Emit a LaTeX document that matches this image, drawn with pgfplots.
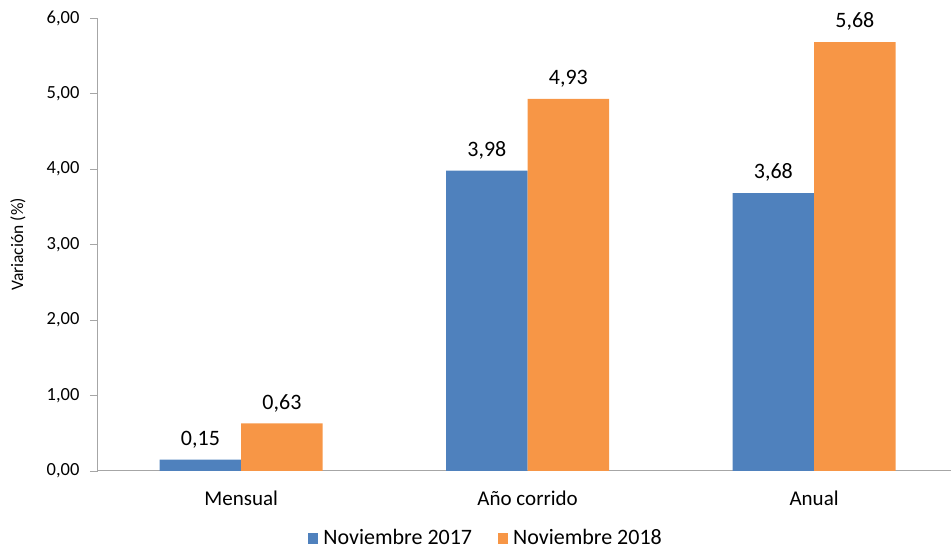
\documentclass[border=0pt]{standalone}
\usepackage{pgfplots}
\pgfplotsset{compat=1.18}
\usepackage{fontspec}
\setmainfont{Carlito}
\definecolor{serieA}{HTML}{4F81BD}
\definecolor{serieB}{HTML}{F79646}
\definecolor{ejes}{HTML}{A6A6A6}

\pgfplotstableread{
x v2017 v2018
0 0.15 0.63
1 3.98 4.93
2 3.68 5.68
}\datos

\begin{document}
\begin{tikzpicture}[x=1pt,y=1pt]
\path[use as bounding box] (-98,-80) rectangle (853,471);
\begin{axis}[
  at={(0,0)}, anchor=south west,
  scale only axis,
  width=853pt, height=453pt,
  ybar=0pt, bar width=81.5pt,
  xmin=-0.5, xmax=2.478,
  ymin=0, ymax=6,
  ytick={0,1,...,6},
  xtick={0,1,2},
  xticklabels={Mensual, Año corrido, Anual},
  extra x ticks={-0.5,0.5,1.5},
  extra x tick labels={},
  extra x tick style={major tick length=8pt, tick style={ejes, line width=0.8pt}},
  x tick style={draw=none},
  y tick style={ejes, line width=0.8pt},
  major tick length=8pt,
  tick align=outside,
  axis x line*=bottom, axis y line*=left,
  axis line style={ejes, line width=1pt, -},
  /pgf/number format/assume math mode=true,
  y tick label style={font=\fontsize{18.5}{22}\selectfont, xshift=-7pt, /pgf/number format/fixed, /pgf/number format/fixed zerofill, /pgf/number format/precision=2, /pgf/number format/use comma},
  x tick label style={font=\fontsize{21}{25}\selectfont, yshift=-8pt},
  ylabel={Variación (\%)},
  ylabel style={at={(axis description cs:-0.094,0.5)}, anchor=center, font=\fontsize{17.5}{21}\selectfont},
  nodes near coords,
  nodes near coords style={/pgf/number format/fixed, /pgf/number format/fixed zerofill, /pgf/number format/precision=2, /pgf/number format/use comma, /pgf/number format/assume math mode=true},
  every node near coord/.append style={font=\fontsize{22}{26}\selectfont, text=black, yshift=8pt},
  legend style={at={(axis description cs:0.455,-0.148)}, anchor=center, draw=none,
    legend columns=2, font=\fontsize{22}{26}\selectfont,
    /tikz/every odd column/.append style={column sep=3pt},
    /tikz/every even column/.append style={column sep=24pt}},
  legend image code/.code={\fill[#1] (0pt,-5.5pt) rectangle (10pt,5.5pt);},
]
\addplot[fill=serieA, draw=none] table[x=x, y=v2017] {\datos};
\addplot[fill=serieB, draw=none] table[x=x, y=v2018] {\datos};
\legend{Noviembre 2017, Noviembre 2018}
\end{axis}
\end{tikzpicture}
\end{document}
